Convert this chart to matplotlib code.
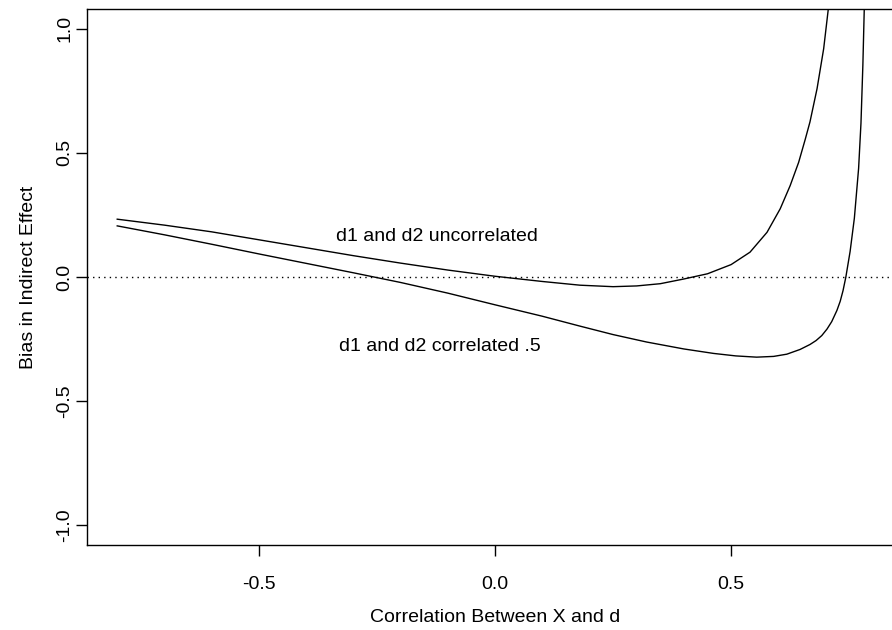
import matplotlib
matplotlib.use("Agg")
import matplotlib.pyplot as plt

# values
x_uncorr = [-0.8, -0.7, -0.6, -0.5, -0.4, -0.3, -0.2, -0.1, 0.0, 0.1, 0.18, 0.25,
            0.3, 0.35, 0.4, 0.45, 0.5, 0.54, 0.576, 0.604, 0.625, 0.643, 0.657,
            0.667, 0.682, 0.696, 0.706, 0.715]
y_uncorr = [0.233, 0.209, 0.182, 0.150, 0.118, 0.086, 0.056, 0.028, 0.003, -0.018,
            -0.033, -0.039, -0.036, -0.027, -0.008, 0.013, 0.050, 0.100, 0.180,
            0.275, 0.368, 0.462, 0.555, 0.625, 0.759, 0.920, 1.083, 1.250]

x_corr = [-0.8, -0.7, -0.6, -0.5, -0.4, -0.3, -0.2, -0.1, 0.0, 0.1, 0.18, 0.25,
          0.321, 0.4, 0.463, 0.51, 0.554, 0.59, 0.618, 0.646, 0.667, 0.68, 0.692,
          0.703, 0.713, 0.724, 0.731, 0.737, 0.743, 0.752, 0.761, 0.770, 0.775,
          0.779, 0.782, 0.785]
y_corr = [0.206, 0.170, 0.132, 0.093, 0.055, 0.017, -0.022, -0.065, -0.112, -0.158,
          -0.198, -0.232, -0.262, -0.290, -0.308, -0.318, -0.323, -0.320, -0.311,
          -0.292, -0.272, -0.256, -0.236, -0.210, -0.180, -0.135, -0.098, -0.055,
          0.0, 0.103, 0.237, 0.438, 0.620, 0.853, 1.083, 1.300]

x_ticks = [-0.5, 0.0, 0.5]
y_ticks = [-1.0, -0.5, 0.0, 0.5, 1.0]

plt.rcParams['font.family'] = ['Liberation Sans', 'DejaVu Sans']

fig = plt.figure(figsize=(8.92, 6.30), dpi=100)
W, H = 892, 630
ax = fig.add_axes([87 / W, 85 / H, (903 - 87) / W, (545 - 9) / H])

ax.plot(x_uncorr, y_uncorr, color='black', lw=1)
ax.plot(x_corr, y_corr, color='black', lw=1)
ax.axhline(0, color='black', lw=1, linestyle=(0, (1, 3)))

ax.text(-0.123, 0.165, "d1 and d2 uncorrelated", ha='center', va='center', fontsize=14)
ax.text(-0.116, -0.281, "d1 and d2 correlated .5", ha='center', va='center', fontsize=14)

ax.set_xlim(-0.864, 0.864)
ax.set_ylim(-1.08, 1.08)
ax.set_xticks(x_ticks)
ax.set_xticklabels(["%.1f" % v for v in x_ticks])
ax.set_yticks(y_ticks)
ax.set_yticklabels(["%.1f" % v for v in y_ticks], rotation=90, va='center')
ax.tick_params(direction='out', length=8, width=1, labelsize=14)
ax.tick_params(axis='x', pad=14)
ax.tick_params(axis='y', pad=2)
for s in ax.spines.values():
    s.set_linewidth(1)

ax.set_xlabel("Correlation Between X and d", fontsize=14, labelpad=12)
ax.set_ylabel("Bias in Indirect Effect", fontsize=14, labelpad=14)

fig.savefig("out.png", dpi=100)
